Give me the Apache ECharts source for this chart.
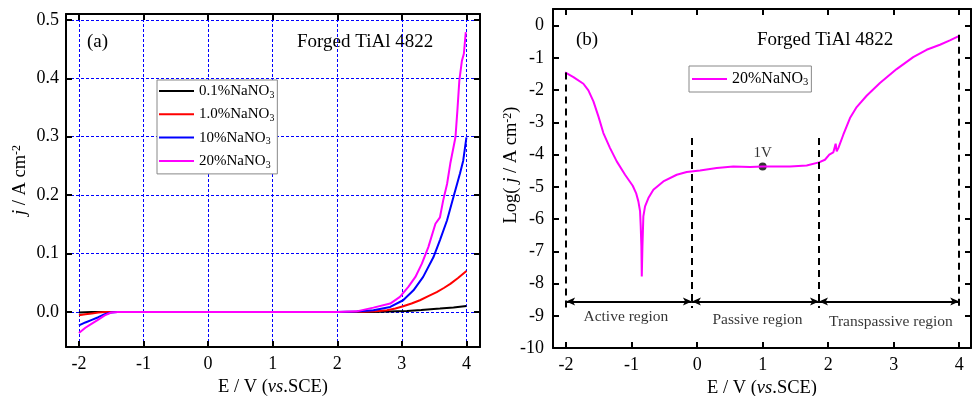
<!DOCTYPE html>
<html><head><meta charset="utf-8">
<script src="https://cdn.jsdelivr.net/npm/echarts@6/dist/echarts.min.js"></script>
<style>html,body{margin:0;padding:0;background:#fff}#c{width:973px;height:396px}</style>
</head><body><div id="c"></div>
<script>
const FONT = 'Liberation Serif';

// ---------- Panel (a) ----------
const xTicksA = [-2, -1, 0, 1, 2, 3, 4];
const yTicksA = [0, 0.1, 0.2, 0.3, 0.4, 0.5];
const namesA = ['0.1%NaNO3', '1.0%NaNO3', '10%NaNO3', '20%NaNO3'];
const colorsA = ['#000000', '#ff0000', '#0000ff', '#ff00ff'];

const E_01 = [-2, -1.9, -1.8, -1.5, 0, 2, 2.56, 2.8, 3.08, 3.3, 3.59, 3.8, 4.0];
const J_01 = [-0.001, -0.0005, 0, 0, 0, 0, 0, 0.0008, 0.0017, 0.0033, 0.0057, 0.0078, 0.0103];

const E_1 = [-2, -1.9, -1.8, -1.7, -1.6, 0, 2, 2.4, 2.6, 2.77, 2.9, 3.02, 3.15, 3.28, 3.41, 3.54, 3.65, 3.75, 3.87, 4.0];
const J_1 = [-0.0055, -0.004, -0.0025, -0.001, 0, 0, 0, 0.0004, 0.0012, 0.0029, 0.006, 0.0097, 0.0145, 0.020, 0.027, 0.034, 0.041, 0.048, 0.058, 0.070];

const E_10 = [-2, -1.9, -1.8, -1.7, -1.6, -1.5, -1.4, 0, 2, 2.3, 2.56, 2.82, 3.02, 3.18, 3.33, 3.49, 3.59, 3.70, 3.80, 3.90, 3.95, 4.0];
const J_10 = [-0.023, -0.018, -0.0135, -0.009, -0.004, -0.001, 0, 0, 0, 0.0006, 0.0029, 0.0086, 0.020, 0.037, 0.060, 0.094, 0.123, 0.157, 0.197, 0.237, 0.259, 0.299];

const E_20 = [-2, -1.9, -1.8, -1.7, -1.6, -1.5, -1.4, 0, 2, 2.3, 2.56, 2.82, 2.97, 3.10, 3.21, 3.31, 3.41, 3.52, 3.59, 3.64, 3.70, 3.75, 3.83, 3.86, 3.89, 3.93, 3.96, 3.99];
const J_20 = [-0.036, -0.027, -0.020, -0.013, -0.006, -0.001, 0, 0, 0, 0.001, 0.0074, 0.0143, 0.0257, 0.0428, 0.0599, 0.0827, 0.111, 0.151, 0.162, 0.191, 0.219, 0.254, 0.299, 0.345, 0.396, 0.430, 0.442, 0.479];

// ---------- Panel (b) ----------
const xTicksB = [-2, -1, 0, 1, 2, 3, 4];
const yTicksB = [-10, -9, -8, -7, -6, -5, -4, -3, -2, -1, 0];
const nameB = '20%NaNO3';
const E_B = [-2.015, -1.888, -1.736, -1.660, -1.583, -1.507, -1.431, -1.329, -1.227, -1.100, -0.983, -0.932, -0.897, -0.871, -0.861, -0.851, -0.845, -0.835, -0.821, -0.795, -0.744, -0.668, -0.516, -0.311, -0.159, 0.044, 0.299, 0.552, 0.807, 1.0, 1.417, 1.672, 1.860, 1.951, 2.017, 2.078, 2.093, 2.114, 2.130, 2.155, 2.231, 2.333, 2.435, 2.587, 2.790, 3.045, 3.298, 3.502, 3.706, 3.858, 3.985];
const L_B = [-1.448, -1.593, -1.800, -2.007, -2.348, -2.813, -3.330, -3.796, -4.209, -4.623, -4.964, -5.192, -5.450, -5.760, -6.227, -6.848, -7.778, -6.850, -5.917, -5.606, -5.347, -5.088, -4.830, -4.623, -4.540, -4.489, -4.416, -4.365, -4.385, -4.37, -4.365, -4.334, -4.240, -4.158, -4.002, -3.930, -3.899, -3.661, -3.899, -3.796, -3.382, -2.864, -2.523, -2.172, -1.778, -1.345, -0.972, -0.745, -0.590, -0.455, -0.331];

const markPointB = [1.0, -4.37];
const markPointLabel = '1V';
const dashX = [-2, -0.08, 1.86, 4.0];
const dashTop = [-1.45, -3.48, -3.48, -0.28];
const dashBottom = -8.76;
const arrowY = -8.56;
const regionNames = ['Active region', 'Passive region', 'Transpassive region'];
const regionX = [-1.088, 0.921, 2.958];
const regionY = [-9.03, -9.12, -9.2];

// ---------- helpers ----------
const rich = {
  i: { fontFamily: FONT, fontStyle: 'italic', fontSize: 18.5, color: '#000' },
  sup: { fontFamily: FONT, fontSize: 12, verticalAlign: 'top', color: '#000' }
};
function pairs(xs, ys) { return xs.map((x, i) => [x, ys[i]]); }

function makeAxis(grid, pos, min, max, ticks, showLabel, split, extra) {
  const ax = {
    type: 'value', gridIndex: grid, position: pos, min: min, max: max,
    axisLine: { show: true, onZero: false, lineStyle: { color: '#000', width: 2 } },
    axisTick: { show: true, inside: true, length: 6, lineStyle: { color: '#000', width: 2 }, customValues: ticks },
    axisLabel: { show: showLabel, customValues: ticks, fontFamily: FONT, fontSize: 18, color: '#000', margin: 8 },
    splitLine: { show: split, showMinLine: true, showMaxLine: true, lineStyle: { color: '#0000ff', width: 1, type: [3, 2] } },
    minorTick: { show: false }
  };
  return Object.assign(ax, extra || {});
}

const xName = 'E / V ({i|vs}.SCE)';
const nameStyle = { fontFamily: FONT, fontSize: 18.5, color: '#000', rich: rich };

const legendRich = (fs) => ({
  fontFamily: FONT, fontSize: fs, color: '#000', lineHeight: 18,
  rich: { sub: { fontFamily: FONT, fontSize: fs * 0.66, verticalAlign: 'bottom', color: '#000' } }
});
const legendFmt = (n) => n.replace('NaNO3', 'NaNO{sub|3}');

const chart = echarts.init(document.getElementById('c'), null, { renderer: 'canvas' });

const seriesA = [[E_01, J_01], [E_1, J_1], [E_10, J_10], [E_20, J_20]].map((d, k) => ({
  type: 'line', name: namesA[k], xAxisIndex: 0, yAxisIndex: 0,
  data: pairs(d[0], d[1]), showSymbol: false, symbol: 'none',
  lineStyle: { color: colorsA[k], width: 2 }, itemStyle: { color: colorsA[k] }, silent: true
}));

const yLeftA = makeAxis(0, 'left', -0.06, 0.51, yTicksA, true, true);
yLeftA.axisLabel.formatter = v => v.toFixed(1);
yLeftA.axisLabel.margin = 7;

const yLeftB = makeAxis(1, 'left', -10, 0.52, yTicksB, true, false);
yLeftB.axisLabel.margin = 9;

const option = {
  animation: false,
  backgroundColor: '#fff',
  textStyle: { fontFamily: FONT },
  grid: [
    { left: 66, top: 14, width: 414, height: 333, outerBoundsMode: 'none', containLabel: false },
    { left: 553, top: 9, width: 418, height: 339, outerBoundsMode: 'none', containLabel: false }
  ],
  xAxis: [
    makeAxis(0, 'bottom', -2.2, 4.21, xTicksA, true, true, {
      name: xName, nameLocation: 'middle', nameGap: 30, nameTextStyle: nameStyle
    }),
    makeAxis(0, 'top', -2.2, 4.21, xTicksA, false, false),
    makeAxis(1, 'bottom', -2.2, 4.18, xTicksB, true, false, {
      name: xName, nameLocation: 'middle', nameGap: 30, nameTextStyle: nameStyle
    }),
    makeAxis(1, 'top', -2.2, 4.18, xTicksB, false, false)
  ],
  yAxis: [
    yLeftA,
    makeAxis(0, 'right', -0.06, 0.51, yTicksA, false, false),
    yLeftB,
    makeAxis(1, 'right', -10, 0.52, yTicksB, false, false)
  ],
  legend: [
    {
      data: namesA, left: 157, top: 80, orient: 'vertical', icon: 'rect',
      itemWidth: 35, itemHeight: 2, itemGap: 5.3, padding: [2, 3, 4, 2],
      borderColor: '#888', borderWidth: 1, backgroundColor: '#fff',
      formatter: legendFmt, textStyle: legendRich(15), selectedMode: false
    },
    {
      data: [nameB], left: 689, top: 66, orient: 'vertical', icon: 'rect',
      itemWidth: 35, itemHeight: 2, itemGap: 5, padding: [4, 3, 4, 3],
      borderColor: '#888', borderWidth: 1, backgroundColor: '#fff',
      formatter: legendFmt, textStyle: legendRich(16), selectedMode: false
    }
  ],
  series: seriesA.concat([
    {
      type: 'line', name: nameB, xAxisIndex: 2, yAxisIndex: 2,
      data: pairs(E_B, L_B), showSymbol: false, symbol: 'none', silent: true,
      lineStyle: { color: '#ff00ff', width: 2 }, itemStyle: { color: '#ff00ff' },
      markLine: {
        silent: true, symbol: 'none', animation: false, label: { show: false },
        lineStyle: { color: '#000', width: 2, type: [7, 5] },
        data: dashX.map((x, i) => [{ coord: [x, dashTop[i]] }, { coord: [x, dashBottom] }])
      }
    },
    {
      type: 'line', name: 'arrows', xAxisIndex: 2, yAxisIndex: 2, data: [],
      silent: true, symbol: 'none',
      markLine: {
        silent: true, animation: false, label: { show: false },
        symbol: ['arrow', 'arrow'],
        lineStyle: { color: '#000', width: 2, type: 'solid' },
        data: [0, 1, 2].map(i => [
          { coord: [dashX[i], arrowY], symbol: 'arrow', symbolSize: [6, 9] },
          { coord: [dashX[i + 1], arrowY], symbol: 'arrow', symbolSize: [6, 9] }
        ])
      }
    },
    {
      type: 'scatter', name: 'pt', xAxisIndex: 2, yAxisIndex: 2, silent: true,
      data: [markPointB], symbolSize: 8, itemStyle: { color: '#000' },
      label: { show: true, formatter: markPointLabel, position: 'top', distance: 2,
        fontFamily: FONT, fontSize: 15, color: '#000' }
    },
    {
      type: 'scatter', name: 'regions', xAxisIndex: 2, yAxisIndex: 2, silent: true,
      data: regionNames.map((n, i) => ({ name: n, value: [regionX[i], regionY[i]] })),
      symbolSize: 0, itemStyle: { color: 'rgba(0,0,0,0)' },
      label: { show: true, formatter: p => p.name, position: 'inside',
        fontFamily: FONT, fontSize: 15.5, color: '#000' }
    }
  ]),
  graphic: [
    { type: 'text', x: 87, y: 42, style: { text: '(a)', fill: '#000', font: '19px "Liberation Serif"', align: 'left', verticalAlign: 'middle' } },
    { type: 'text', x: 297, y: 42, style: { text: 'Forged TiAl 4822', fill: '#000', font: '19px "Liberation Serif"', align: 'left', verticalAlign: 'middle' } },
    { type: 'text', x: 576, y: 40, style: { text: '(b)', fill: '#000', font: '19px "Liberation Serif"', align: 'left', verticalAlign: 'middle' } },
    { type: 'text', x: 757, y: 40, style: { text: 'Forged TiAl 4822', fill: '#000', font: '19px "Liberation Serif"', align: 'left', verticalAlign: 'middle' } },
    { type: 'text', x: 20, y: 180, rotation: Math.PI / 2,
      style: { text: '{i|j} / A cm{sup|-2}', fill: '#000', fontFamily: FONT, fontSize: 18.5,
        align: 'center', verticalAlign: 'middle', rich: rich } },
    { type: 'text', x: 511, y: 165, rotation: Math.PI / 2,
      style: { text: 'Log( {i|j} / A cm{sup|-2})', fill: '#000', fontFamily: FONT, fontSize: 18.5,
        align: 'center', verticalAlign: 'middle', rich: rich } }
  ]
};
chart.setOption(option);
</script>
</body></html>
